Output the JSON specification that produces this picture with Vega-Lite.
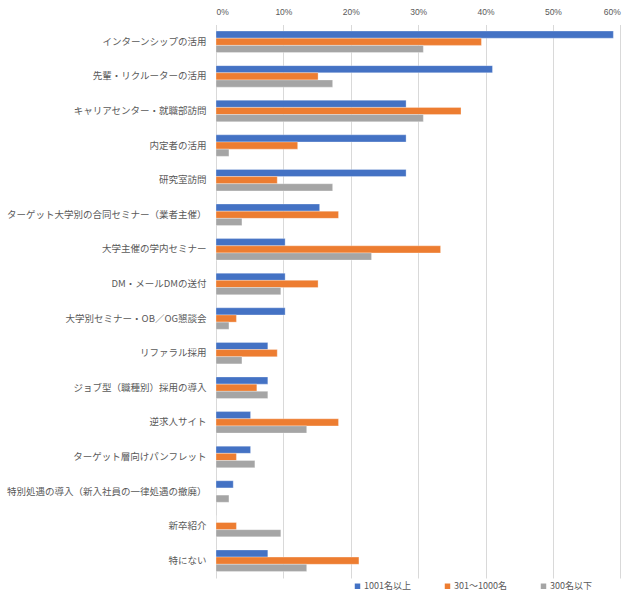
{
  "$schema": "https://vega.github.io/schema/vega-lite/v6.json",
  "autosize": "none",
  "padding": {"left": 216, "top": 24.5, "right": 19.7, "bottom": 37},
  "width": 404.3,
  "height": 553.5,
  "background": "white",
  "config": {
    "font": "Noto Sans CJK JP",
    "view": {"stroke": null}
  },
  "data": {
    "values": [
      {"c": "インターンシップの活用", "s": "1001名以上", "v": 0.5897},
      {"c": "インターンシップの活用", "s": "301～1000名", "v": 0.3939},
      {"c": "インターンシップの活用", "s": "300名以下", "v": 0.3077},
      {"c": "先輩・リクルーターの活用", "s": "1001名以上", "v": 0.4103},
      {"c": "先輩・リクルーターの活用", "s": "301～1000名", "v": 0.1515},
      {"c": "先輩・リクルーターの活用", "s": "300名以下", "v": 0.1731},
      {"c": "キャリアセンター・就職部訪問", "s": "1001名以上", "v": 0.2821},
      {"c": "キャリアセンター・就職部訪問", "s": "301～1000名", "v": 0.3636},
      {"c": "キャリアセンター・就職部訪問", "s": "300名以下", "v": 0.3077},
      {"c": "内定者の活用", "s": "1001名以上", "v": 0.2821},
      {"c": "内定者の活用", "s": "301～1000名", "v": 0.1212},
      {"c": "内定者の活用", "s": "300名以下", "v": 0.0192},
      {"c": "研究室訪問", "s": "1001名以上", "v": 0.2821},
      {"c": "研究室訪問", "s": "301～1000名", "v": 0.0909},
      {"c": "研究室訪問", "s": "300名以下", "v": 0.1731},
      {"c": "ターゲット大学別の合同セミナー（業者主催）", "s": "1001名以上", "v": 0.1538},
      {"c": "ターゲット大学別の合同セミナー（業者主催）", "s": "301～1000名", "v": 0.1818},
      {"c": "ターゲット大学別の合同セミナー（業者主催）", "s": "300名以下", "v": 0.0385},
      {"c": "大学主催の学内セミナー", "s": "1001名以上", "v": 0.1026},
      {"c": "大学主催の学内セミナー", "s": "301～1000名", "v": 0.3333},
      {"c": "大学主催の学内セミナー", "s": "300名以下", "v": 0.2308},
      {"c": "DM・メールDMの送付", "s": "1001名以上", "v": 0.1026},
      {"c": "DM・メールDMの送付", "s": "301～1000名", "v": 0.1515},
      {"c": "DM・メールDMの送付", "s": "300名以下", "v": 0.0962},
      {"c": "大学別セミナー・OB／OG懇談会", "s": "1001名以上", "v": 0.1026},
      {"c": "大学別セミナー・OB／OG懇談会", "s": "301～1000名", "v": 0.0303},
      {"c": "大学別セミナー・OB／OG懇談会", "s": "300名以下", "v": 0.0192},
      {"c": "リファラル採用", "s": "1001名以上", "v": 0.0769},
      {"c": "リファラル採用", "s": "301～1000名", "v": 0.0909},
      {"c": "リファラル採用", "s": "300名以下", "v": 0.0385},
      {"c": "ジョブ型（職種別）採用の導入", "s": "1001名以上", "v": 0.0769},
      {"c": "ジョブ型（職種別）採用の導入", "s": "301～1000名", "v": 0.0606},
      {"c": "ジョブ型（職種別）採用の導入", "s": "300名以下", "v": 0.0769},
      {"c": "逆求人サイト", "s": "1001名以上", "v": 0.0513},
      {"c": "逆求人サイト", "s": "301～1000名", "v": 0.1818},
      {"c": "逆求人サイト", "s": "300名以下", "v": 0.1346},
      {"c": "ターゲット層向けパンフレット", "s": "1001名以上", "v": 0.0513},
      {"c": "ターゲット層向けパンフレット", "s": "301～1000名", "v": 0.0303},
      {"c": "ターゲット層向けパンフレット", "s": "300名以下", "v": 0.0577},
      {"c": "特別処遇の導入（新入社員の一律処遇の撤廃）", "s": "1001名以上", "v": 0.0256},
      {"c": "特別処遇の導入（新入社員の一律処遇の撤廃）", "s": "301～1000名", "v": 0},
      {"c": "特別処遇の導入（新入社員の一律処遇の撤廃）", "s": "300名以下", "v": 0.0192},
      {"c": "新卒紹介", "s": "1001名以上", "v": 0},
      {"c": "新卒紹介", "s": "301～1000名", "v": 0.0303},
      {"c": "新卒紹介", "s": "300名以下", "v": 0.0962},
      {"c": "特にない", "s": "1001名以上", "v": 0.0769},
      {"c": "特にない", "s": "301～1000名", "v": 0.2121},
      {"c": "特にない", "s": "300名以下", "v": 0.1346}
    ]
  },
  "mark": {"type": "bar", "strokeWidth": 0.6, "strokeOpacity": 0.5, "stroke": "white"},
  "encoding": {
    "y": {
      "field": "c",
      "type": "nominal",
      "sort": null,
      "scale": {"paddingInner": 0.378, "paddingOuter": 0.189},
      "axis": {
        "title": null,
        "ticks": false,
        "domain": false,
        "labelFontSize": 9.5,
        "labelColor": "#595959",
        "labelPadding": 10,
        "labelLimit": 300
      }
    },
    "yOffset": {
      "field": "s",
      "type": "nominal",
      "sort": ["1001名以上", "301～1000名", "300名以下"],
      "scale": {"paddingInner": 0, "paddingOuter": 0}
    },
    "x": {
      "field": "v",
      "type": "quantitative",
      "scale": {"domain": [0, 0.6], "nice": false},
      "axis": {
        "orient": "top",
        "title": null,
        "format": ".0%",
        "values": [0, 0.1, 0.2, 0.3, 0.4, 0.5, 0.6],
        "ticks": false,
        "domain": false,
        "labelFontSize": 8.5,
        "labelFont": "Liberation Sans",
        "labelColor": "#595959",
        "labelPadding": 8,
        "gridColor": "#d9d9d9",
        "gridWidth": 1
      }
    },
    "color": {
      "field": "s",
      "type": "nominal",
      "sort": ["1001名以上", "301～1000名", "300名以下"],
      "scale": {
        "domain": ["1001名以上", "301～1000名", "300名以下"],
        "range": ["#4472C4", "#ED7D31", "#A5A5A5"]
      },
      "legend": {
        "title": null,
        "orient": "none",
        "direction": "horizontal",
        "legendX": 137,
        "legendY": 557,
        "symbolType": "square",
        "symbolSize": 30,
        "symbolStrokeWidth": 0,
        "labelFontSize": 9,
        "labelColor": "#595959",
        "labelOffset": 2,
        "columnPadding": 32
      }
    }
  }
}
